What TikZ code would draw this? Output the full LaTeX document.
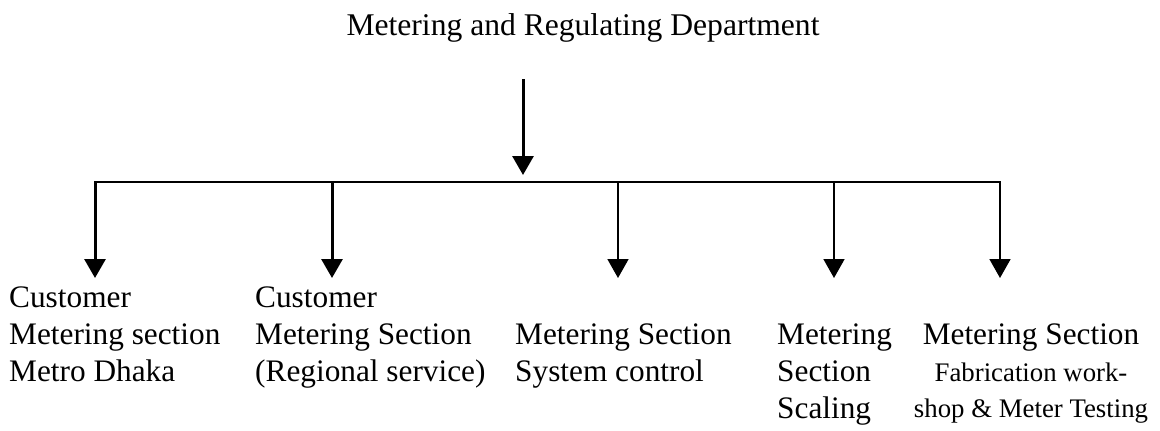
\documentclass[tikz,border=0pt]{standalone}
\usepackage{fontspec}
\setmainfont{Liberation Serif}
\usetikzlibrary{arrows.meta}
\begin{document}
\begin{tikzpicture}[x=1pt,y=-1pt,
  lbl/.style={inner sep=0pt, font=\fontsize{31.3}{37}\selectfont},
  conn/.style={line width=1.8pt, line cap=rect},
  arr/.style={line width=1.8pt, -{Triangle[width=21pt,length=19pt]}},
  thickarr/.style={arr, line width=3pt},
]
\useasboundingbox (0,0) rectangle (1160,431);
% title
\node[lbl, anchor=base, font=\fontsize{31.6}{37}\selectfont] (t) at (583,35) {Metering and Regulating Department};
% main arrow
\coordinate (mtop) at (523,79);
\coordinate (mtip) at (523,175);
\draw[thickarr] (mtop) -- (mtip);
% bar
\coordinate (b1) at (95,182);
\coordinate (b2) at (332,182);
\coordinate (b3) at (618,182);
\coordinate (b4) at (834,182);
\coordinate (b5) at (1000,182);
\draw[conn] (b1) -- (b5);
% arrow tips
\coordinate (a1) at (95,278);
\coordinate (a2) at (332,278);
\coordinate (a3) at (618,278);
\coordinate (a4) at (834,278);
\coordinate (a5) at (1000,278);
\draw[thickarr] (b1) -- (a1);
\draw[thickarr] (b2) -- (a2);
\draw[arr] (b3) -- (a3);
\draw[arr] (b4) -- (a4);
\draw[arr] (b5) -- (a5);
% labels
\node[lbl, anchor=north west, align=left] (c1) at (9,287) {Customer\\Metering section\\Metro Dhaka};
\node[lbl, anchor=north west, align=left] (c2) at (255,287) {Customer\\Metering Section\\(Regional service)};
\node[lbl, anchor=north west, align=left] (c3) at (515,324) {Metering Section\\System control};
\node[lbl, anchor=north west, align=left] (c4) at (777,324) {Metering\\Section\\Scaling};
\node[lbl, anchor=north, align=center, font=\fontsize{26.8}{36.5}\selectfont] (c5) at (1031,324) {{\fontsize{31.3}{36.5}\selectfont Metering Section}\\Fabrication work-\\shop \& Meter Testing};
\end{tikzpicture}
\end{document}
